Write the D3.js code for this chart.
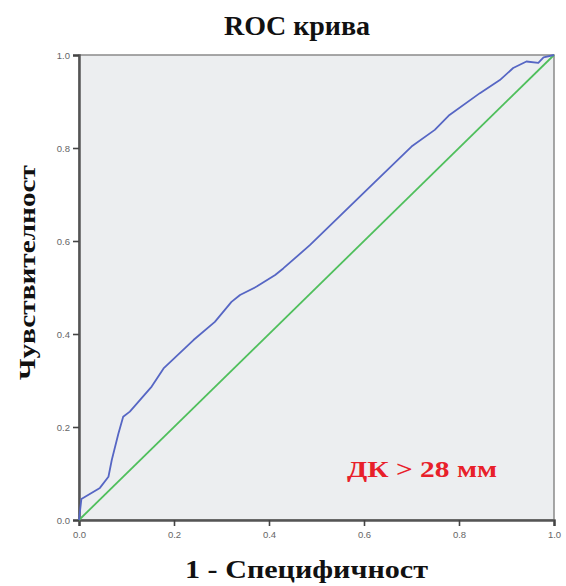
<!DOCTYPE html>
<html>
<head>
<meta charset="utf-8">
<script src="https://cdn.jsdelivr.net/npm/d3@7"></script>
<style>
  html, body { margin: 0; padding: 0; background: #fff; }
  svg { display: block; }
</style>
</head>
<body>
<svg id="chart" width="566" height="586"></svg>
<script>
// ROC curve: 1 - specificity (x) vs sensitivity (y)
const fpr = [0.000, 0.005, 0.044, 0.062, 0.069, 0.083, 0.093, 0.107, 0.153, 0.178, 0.241, 0.286, 0.321, 0.339, 0.374, 0.413, 0.430, 0.486, 0.620, 0.700, 0.749, 0.780, 0.844, 0.886, 0.914, 0.942, 0.967, 0.978, 1.000];
const tpr = [0.000, 0.045, 0.069, 0.093, 0.129, 0.186, 0.222, 0.233, 0.287, 0.326, 0.387, 0.426, 0.469, 0.484, 0.502, 0.527, 0.541, 0.591, 0.724, 0.803, 0.839, 0.871, 0.918, 0.946, 0.972, 0.986, 0.983, 0.995, 1.000];
// Reference (chance) line
const refX = [0, 1];
const refY = [0, 1];
const ticks = [0.0, 0.2, 0.4, 0.6, 0.8, 1.0];
const titleText = "ROC крива";
const xLabel = "1 - Специфичност";
const yLabel = "Чувствителност";
const noteText = "ДК > 28 мм";

const svg = d3.select("#chart");
const plotL = 79, plotR = 554, plotT = 55, plotB = 520;

const x = d3.scaleLinear().domain([0, 1]).range([plotL, plotR]);
const y = d3.scaleLinear().domain([0, 1]).range([plotB, plotT]);

// plot background
svg.append("rect")
  .attr("x", plotL).attr("y", plotT)
  .attr("width", plotR - plotL).attr("height", plotB - plotT)
  .attr("fill", "#eceef0")
  .attr("stroke", "#8a8a8a").attr("stroke-width", 1.5);

const fmt = d3.format(".1f");

const xAxis = svg.append("g")
  .attr("transform", `translate(0,${plotB})`)
  .call(d3.axisBottom(x).tickValues(ticks).tickFormat(fmt).tickSize(6).tickPadding(5));
const yAxis = svg.append("g")
  .attr("transform", `translate(${plotL},0)`)
  .call(d3.axisLeft(y).tickValues(ticks).tickFormat(fmt).tickSize(6).tickPadding(3));

[xAxis, yAxis].forEach(g => {
  g.select(".domain").attr("stroke", "#555").attr("stroke-width", 2.5);
  g.selectAll(".tick line").attr("stroke", "#444").attr("stroke-width", 1.6);
  g.selectAll(".tick text")
    .attr("fill", "#666")
    .style("font-family", "Arial, 'Liberation Sans', sans-serif")
    .style("font-size", "9.5px");
});

const line = d3.line().x(d => x(d[0])).y(d => y(d[1]));

// chance diagonal
svg.append("path")
  .datum(d3.zip(refX, refY))
  .attr("d", line)
  .attr("fill", "none")
  .attr("stroke", "#4fbf5c")
  .attr("stroke-width", 1.8);

// ROC curve
svg.append("path")
  .datum(d3.zip(fpr, tpr))
  .attr("d", line)
  .attr("fill", "none")
  .attr("stroke", "#5666c4")
  .attr("stroke-width", 1.8)
  .attr("stroke-linejoin", "round");

const serif = "'Liberation Serif', 'DejaVu Serif', 'Times New Roman', serif";

svg.append("text")
  .attr("x", 297).attr("y", 35)
  .attr("text-anchor", "middle")
  .style("font-family", serif).style("font-weight", "bold").style("font-size", "28px")
  .attr("fill", "#111")
  .text(titleText);

svg.append("text")
  .attr("x", 185).attr("y", 578)
  .attr("textLength", 243).attr("lengthAdjust", "spacingAndGlyphs")
  .style("font-family", serif).style("font-weight", "bold").style("font-size", "26px")
  .attr("fill", "#111")
  .text(xLabel);

svg.append("text")
  .attr("transform", "translate(35,380) rotate(-90)")
  .attr("textLength", 215).attr("lengthAdjust", "spacingAndGlyphs")
  .style("font-family", serif).style("font-weight", "bold").style("font-size", "24px")
  .attr("fill", "#111")
  .text(yLabel);

svg.append("text")
  .attr("x", 347).attr("y", 477)
  .attr("textLength", 150).attr("lengthAdjust", "spacingAndGlyphs")
  .style("font-family", serif).style("font-weight", "bold").style("font-size", "23px")
  .attr("fill", "#e8202a")
  .text(noteText);
</script>
</body>
</html>
